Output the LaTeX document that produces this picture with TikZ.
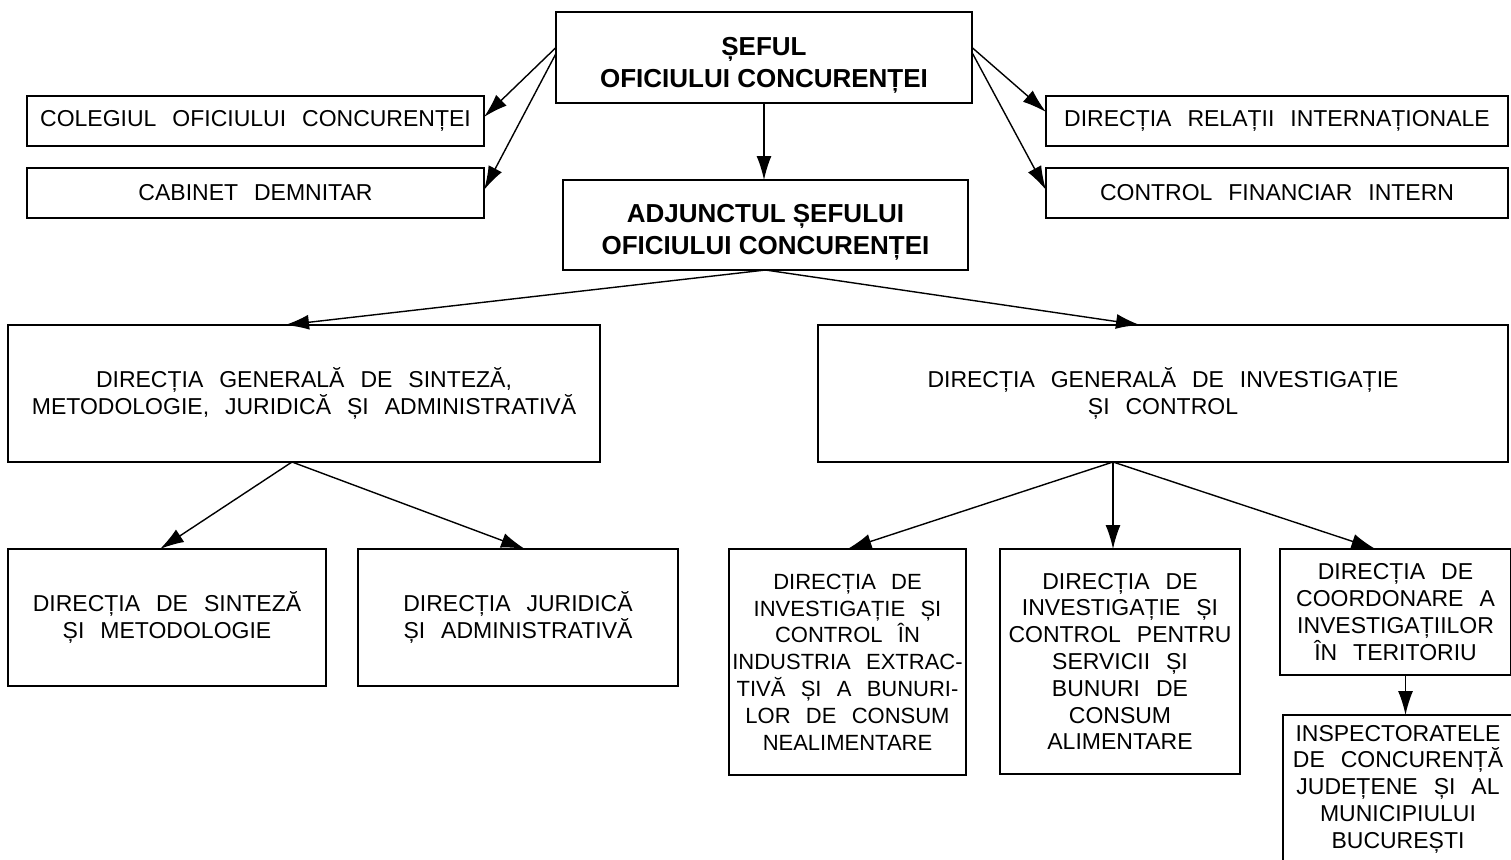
\documentclass[tikz,border=0pt]{standalone}
\usepackage{fontspec}
\setmainfont{Liberation Sans}
\newfontfamily\plainfont[WordSpace=2.5]{Liberation Sans}
\usetikzlibrary{arrows.meta}
\tikzset{
unit/.style = {draw=black, line width=1.6pt, rectangle, align=center,
               inner sep=0pt, outer sep=0pt,
               font=\plainfont\fontsize{23}{26.8}\selectfont},
head/.style = {unit, font=\bfseries\fontsize{26}{32}\selectfont}
}
% raise the first line of the bold boxes
\newcommand{\toprule}{\rule{0pt}{33pt}}

\begin{document}
\begin{tikzpicture}[x=1pt, y=-1pt, >={Latex[length=24pt,width=15pt]}, line width=1.4pt]
\useasboundingbox (0,0) rectangle (1511,859);

\node[head, minimum width=416, minimum height=91] (sef) at (764,57.5) {\toprule ȘEFUL\\OFICIULUI CONCURENȚEI};
\node[head, minimum width=405, minimum height=90] (adj) at (765.5,225) {\toprule ADJUNCTUL ȘEFULUI\\OFICIULUI CONCURENȚEI};
\node[unit, minimum width=457, minimum height=50] (coleg) at (255.5,121) {COLEGIUL OFICIULUI CONCURENȚEI};
\node[unit, minimum width=457, minimum height=50] (cab) at (255.5,193) {CABINET DEMNITAR};
\node[unit, minimum width=462, minimum height=50] (rel) at (1277,121) {DIRECȚIA RELAȚII INTERNAȚIONALE};
\node[unit, minimum width=462, minimum height=50] (cfi) at (1277,193) {CONTROL FINANCIAR INTERN};
\node[unit, minimum width=592, minimum height=137] (dgs) at (304,393.5) {DIRECȚIA GENERALĂ DE SINTEZĂ,\\METODOLOGIE, JURIDICĂ ȘI ADMINISTRATIVĂ};
\node[unit, minimum width=690, minimum height=137] (dgic) at (1163,393.5) {DIRECȚIA GENERALĂ DE INVESTIGAȚIE\\ȘI CONTROL};
\node[unit, minimum width=318, minimum height=137] (sint) at (167,617.5) {DIRECȚIA DE SINTEZĂ\\ȘI METODOLOGIE};
\node[unit, minimum width=320, minimum height=137] (jur) at (518,617.5) {DIRECȚIA JURIDICĂ\\ȘI ADMINISTRATIVĂ};
\node[unit, minimum width=237, minimum height=226, font=\plainfont\fontsize{22}{26.8}\selectfont] (ext) at (847.5,662) {DIRECȚIA DE\\INVESTIGAȚIE ȘI\\CONTROL ÎN\\INDUSTRIA EXTRAC-\\TIVĂ ȘI A BUNURI-\\LOR DE CONSUM\\NEALIMENTARE};
\node[unit, minimum width=240, minimum height=225] (alim) at (1120,661.5) {DIRECȚIA DE\\INVESTIGAȚIE ȘI\\CONTROL PENTRU\\SERVICII ȘI\\BUNURI DE\\CONSUM\\ALIMENTARE};
\node[unit, minimum width=231, minimum height=126] (coord) at (1395.5,612) {DIRECȚIA DE\\COORDONARE A\\INVESTIGAȚIILOR\\ÎN TERITORIU};
\node[unit, minimum width=230, minimum height=148] (insp) at (1398,789) {INSPECTORATELE\\DE CONCURENȚĂ\\JUDEȚENE ȘI AL\\MUNICIPIULUI\\BUCUREȘTI};

% sef to the staff units
\draw [->] ([yshift=10]sef.west) -- ([yshift=4]coleg.east);
\draw [->] ([yshift=4]sef.west) -- ([yshift=3]cab.east);
\draw [->] ([yshift=10]sef.east) -- ([yshift=9]rel.west);
\draw [->] ([yshift=5]sef.east) -- ([yshift=3]cfi.west);
\draw [->] (sef.south) -- (sef.south |- adj.north);

% adjunct to the general directions
\draw [->] (adj.south) -- ([xshift=-19]dgs.north);
\draw [->] (adj.south) -- ([xshift=-23]dgic.north);

\draw [->] ([xshift=-12]dgs.south) -- ([xshift=-7]sint.north);
\draw [->] ([xshift=-12]dgs.south) -- ([xshift=7]jur.north);

\coordinate (fork) at ([xshift=-50]dgic.south);
\draw [->] (fork) -- (ext.north);
\draw [->] (fork) -- (fork |- alim.north);
\draw [->] (fork) -- ([xshift=-20]coord.north);
\draw [->] ([xshift=10]coord.south) -- ([xshift=10]coord.south |- insp.north);
\end{tikzpicture}
\end{document}
